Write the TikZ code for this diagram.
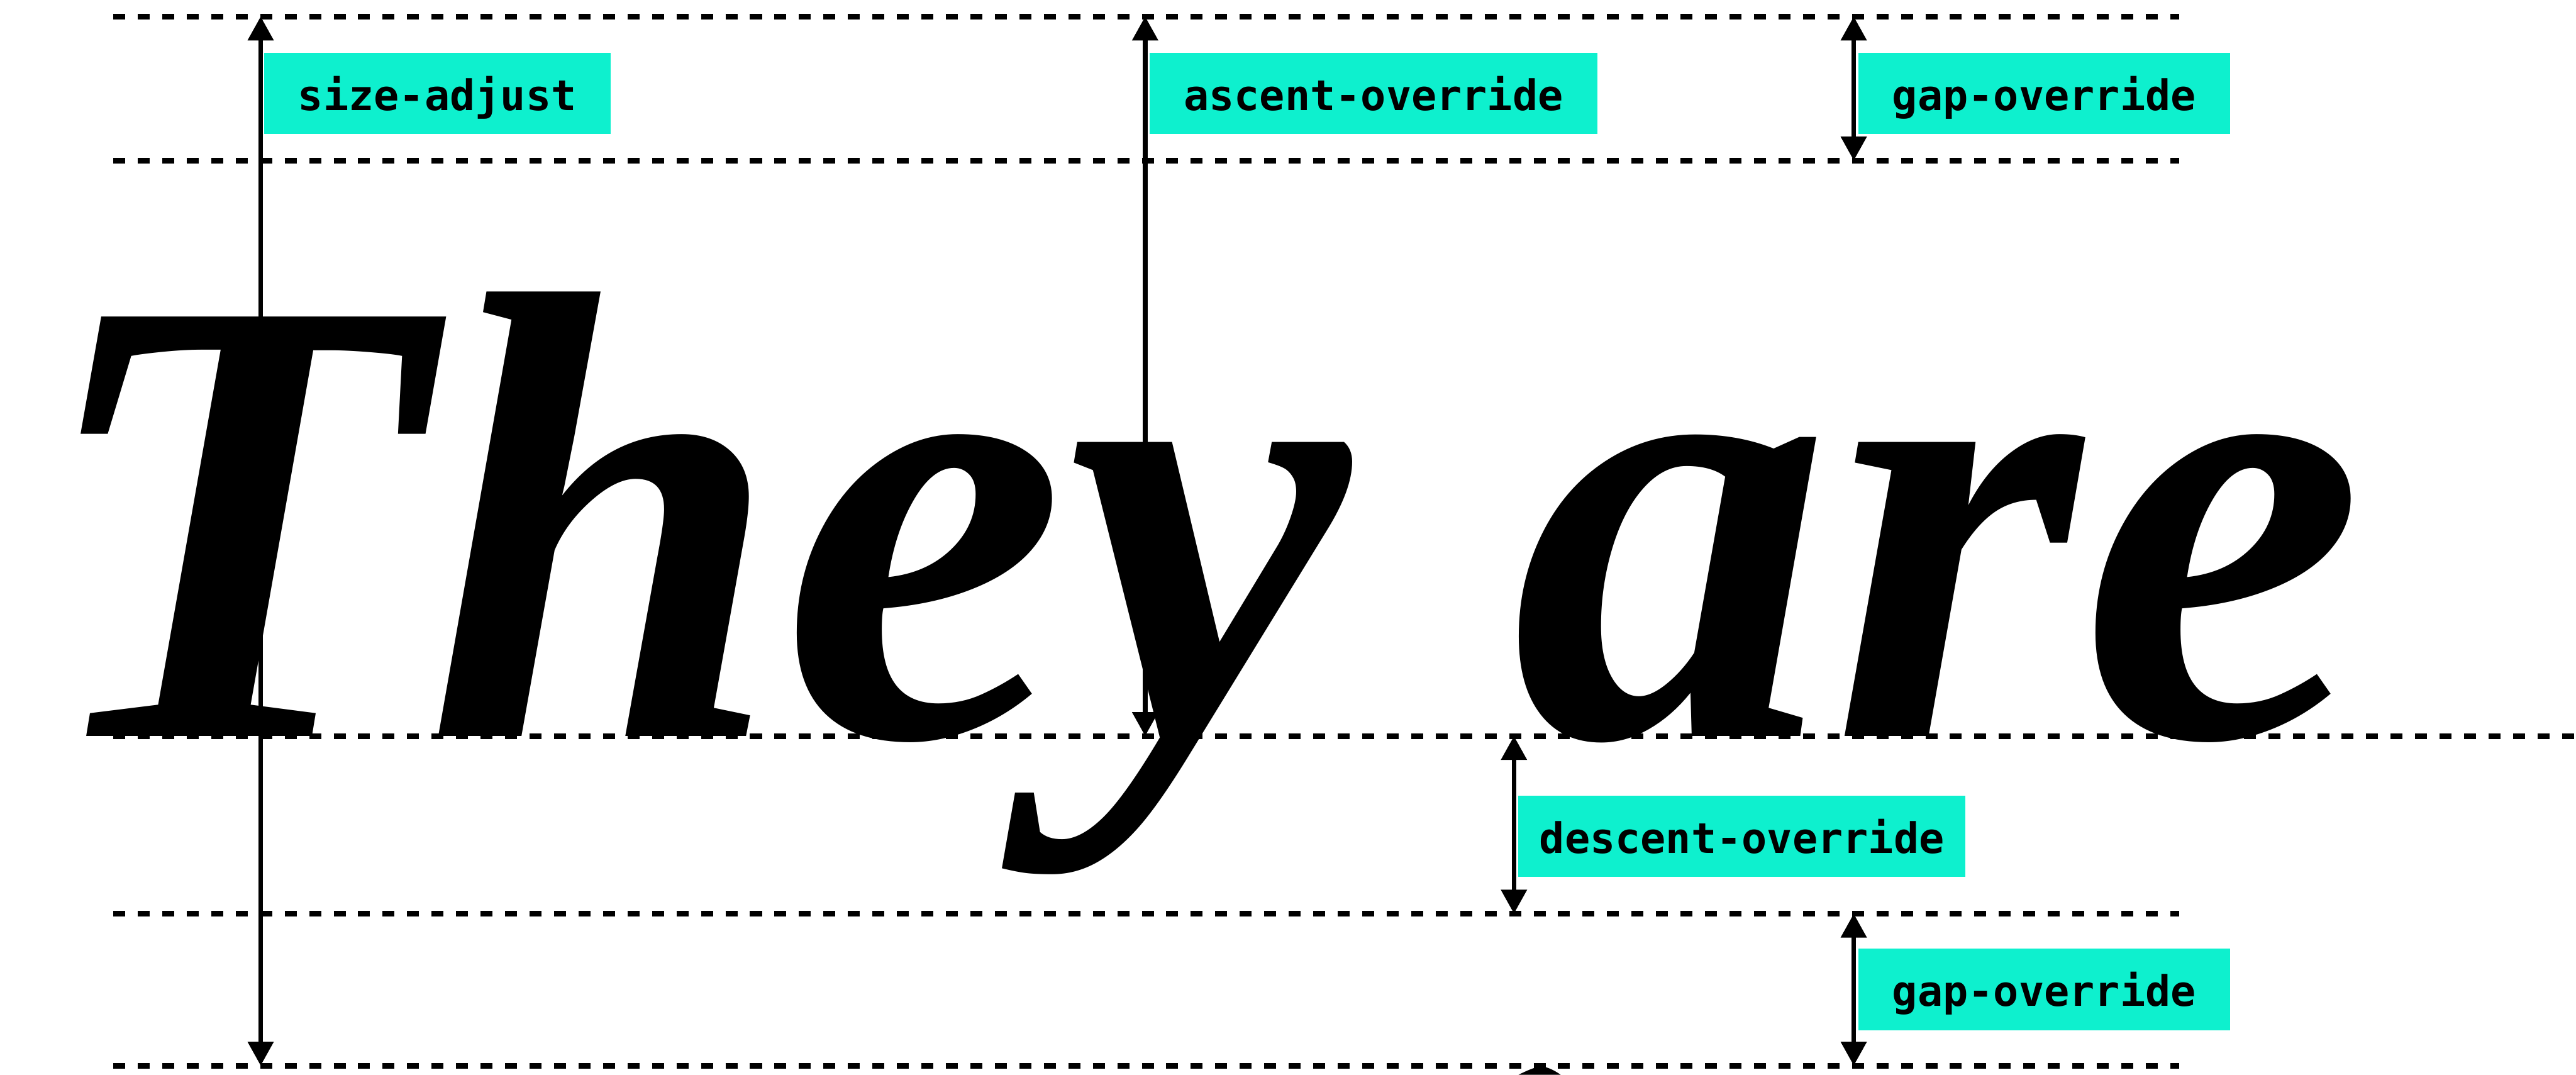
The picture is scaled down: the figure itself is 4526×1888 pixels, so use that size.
\documentclass[tikz,border=0pt]{standalone}
\usepackage{fontspec}
\usetikzlibrary{arrows.meta}
\newfontfamily\handfont{Liberation Serif}
\newfontfamily\tagfont{DejaVu Sans Mono}
\definecolor{tagcyan}{RGB}{14,240,206}

\begin{document}
\begin{tikzpicture}[x=0.01cm,y=-0.01cm,
  metric/.style={line width=2.85pt,dash pattern=on 0.21cm off 0.22cm},
  measure/.style={line width=2.3pt,
    {Triangle[length=0.42cm,width=0.44cm]}-{Triangle[length=0.42cm,width=0.44cm]}},
  hand/.style={anchor=base west,inner sep=0pt,
    font=\handfont\bfseries\itshape\fontsize{320}{320}\selectfont},
  tag/.style={fill=tagcyan,anchor=north west,inner xsep=0.6cm,inner ysep=0pt,
    text height=1.01cm,text depth=0.42cm,
    font=\tagfont\bfseries\fontsize{21}{21}\selectfont}]
  \useasboundingbox (0,0) rectangle (4526,1888);

  % metric lines
  \coordinate (top-l) at (199,29);      \coordinate (top-r) at (3829,29);
  \coordinate (ascent-l) at (199,282);  \coordinate (ascent-r) at (3829,282);
  \coordinate (base-l) at (199,1293);   \coordinate (base-r) at (4526,1293);
  \coordinate (descent-l) at (199,1605);\coordinate (descent-r) at (3829,1605);
  \coordinate (bottom-l) at (199,1872); \coordinate (bottom-r) at (3829,1872);

  \node[hand] (they) at (60,1293) {They};
  \node[hand] (are) at ([xshift=80pt]they.base east) {are};
  \begin{scope}
    \clip (0,0) rectangle (4526,1888);
    \fill (2668,1888) .. controls (2688,1878) and (2700,1874) .. (2708,1873)
      .. controls (2716,1874) and (2728,1878) .. (2742,1888) -- cycle;
  \end{scope}

  \draw[metric] (top-l) -- (top-r);
  \draw[metric] (ascent-l) -- (ascent-r);
  \draw[metric] (base-l) -- (base-r);
  \draw[metric] (descent-l) -- (descent-r);
  \draw[metric] (bottom-l) -- (bottom-r);

  % arrows
  \coordinate (size-t) at (458,29);   \coordinate (size-b) at (458,1872);
  \coordinate (asc-t) at (2012,29);   \coordinate (asc-b) at (2012,1293);
  \coordinate (gap-t) at (3257,29);   \coordinate (gap-b) at (3257,282);
  \coordinate (desc-t) at (2660,1293);\coordinate (desc-b) at (2660,1605);
  \coordinate (gapd-t) at (3257,1605);\coordinate (gapd-b) at (3257,1872);

  \draw[measure] (size-t) -- (size-b);
  \draw[measure] (asc-t) -- (asc-b);
  \draw[measure] (gap-t) -- (gap-b);
  \draw[measure] (desc-t) -- (desc-b);
  \draw[measure] (gapd-t) -- (gapd-b);

  \node[tag] (size) at (463,92) {size-adjust};
  \node[tag] (ascent) at (2019,92) {ascent-override};
  \node[tag] (gap) at (3264,92) {gap-override};
  \node[tag,inner xsep=0.37cm] (descent) at (2667,1397) {descent-override};
  \node[tag] (gapd) at (3264,1666) {gap-override};
\end{tikzpicture}
\end{document}
